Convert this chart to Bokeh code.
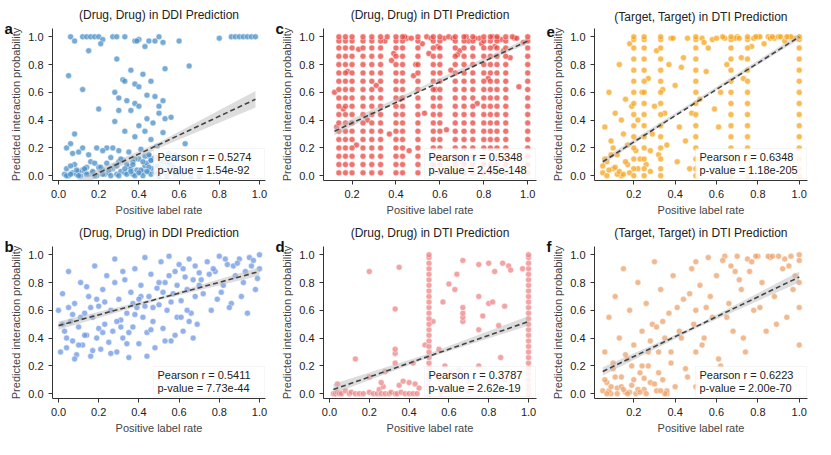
from bokeh.plotting import figure
from bokeh.layouts import gridplot
from bokeh.models import Label, FixedTicker, BoxAnnotation, Title, CustomJSTickFormatter
from bokeh.embed import file_html
from bokeh.resources import INLINE

# ---------- data ----------
titles = ["(Drug, Drug) in DDI Prediction", "(Drug, Drug) in DTI Prediction", "(Target, Target) in DTI Prediction",
          "(Drug, Drug) in DDI Prediction", "(Drug, Drug) in DTI Prediction", "(Target, Target) in DTI Prediction"]
letters = ["a", "c", "e", "b", "d", "f"]
pearson_r = ["0.5274", "0.5348", "0.6348", "0.5411", "0.3787", "0.6223"]
p_values = ["1.54e-92", "2.45e-148", "1.18e-205", "7.73e-44", "2.62e-19", "2.00e-70"]
colors = ["#4a8fc7", "#e8453f", "#f5a41c", "#6e95e3", "#ee8486", "#eca26a"]

a_x = [0.06, 0.08, 0.12, 0.14, 0.16, 0.18, 0.20, 0.22, 0.27, 0.29, 0.33, 0.38, 0.40, 0.45, 0.48, 0.50, 0.52, 0.60, 0.80,
       0.86, 0.88, 0.90, 0.92, 0.94, 0.96, 0.98, 0.39, 0.43, 0.21,
       0.05, 0.15, 0.12, 0.20, 0.29, 0.65, 0.36, 0.42, 0.32, 0.33, 0.38, 0.46, 0.40, 0.28, 0.30, 0.34, 0.38, 0.40, 0.44,
       0.48, 0.52, 0.53, 0.50, 0.36, 0.30, 0.50, 0.44, 0.28, 0.40, 0.47, 0.53, 0.56, 0.33, 0.43, 0.52, 0.38, 0.08, 0.06,
       0.46, 0.63, 0.04, 0.12, 0.19, 0.27, 0.30, 0.24, 0.07, 0.10, 0.15, 0.22, 0.35, 0.41, 0.49, 0.55, 0.58, 0.45, 0.26,
       0.03, 0.05, 0.07, 0.09, 0.11, 0.13, 0.15, 0.17, 0.19, 0.21, 0.23, 0.25, 0.27, 0.29, 0.31, 0.33, 0.35, 0.37, 0.39,
       0.41, 0.43, 0.45, 0.47, 0.49, 0.51, 0.53, 0.55, 0.57, 0.59, 0.04, 0.08, 0.12, 0.16, 0.20, 0.24, 0.28, 0.32, 0.36,
       0.40, 0.44, 0.48, 0.52, 0.56, 0.06, 0.14, 0.22, 0.30, 0.38, 0.46, 0.54, 0.10, 0.18, 0.26, 0.34, 0.42, 0.50, 0.58,
       0.31, 0.37, 0.43, 0.47, 0.51, 0.55, 0.45, 0.49, 0.62, 0.66, 0.70,
       0.04, 0.06, 0.10, 0.14, 0.18, 0.22, 0.26, 0.30, 0.34, 0.38, 0.42, 0.46, 0.50, 0.54, 0.58, 0.09, 0.13, 0.17, 0.21,
       0.25, 0.29, 0.33, 0.37, 0.41, 0.45, 0.49, 0.53, 0.57, 0.36, 0.40, 0.44, 0.48, 0.52, 0.42, 0.46, 0.50]
a_y = [1.00, 0.97, 1.00, 1.00, 1.00, 1.00, 1.00, 0.98, 1.00, 1.00, 1.00, 0.97, 0.98, 0.97, 0.97, 1.00, 0.96, 0.97, 0.99,
       1.00, 1.00, 1.00, 1.00, 1.00, 1.00, 1.00, 0.97, 0.93, 0.95,
       0.72, 0.90, 0.62, 0.48, 0.84, 0.79, 0.76, 0.73, 0.69, 0.68, 0.66, 0.68, 0.64, 0.60, 0.56, 0.54, 0.52, 0.50, 0.58,
       0.57, 0.54, 0.77, 0.50, 0.47, 0.47, 0.45, 0.41, 0.39, 0.36, 0.38, 0.41, 0.42, 0.32, 0.32, 0.31, 0.28, 0.30, 0.23,
       0.26, 0.23, 0.20, 0.20, 0.20, 0.20, 0.18, 0.20, 0.16, 0.17, 0.15, 0.18, 0.17, 0.19, 0.21, 0.16, 0.15, 0.14, 0.13,
       0.01, 0.00, 0.02, 0.01, 0.00, 0.03, 0.01, 0.02, 0.00, 0.04, 0.01, 0.02, 0.05, 0.01, 0.03, 0.02, 0.06, 0.01, 0.04,
       0.02, 0.07, 0.03, 0.05, 0.01, 0.08, 0.02, 0.06, 0.03, 0.01, 0.05, 0.08, 0.04, 0.10, 0.06, 0.09, 0.07, 0.11, 0.05,
       0.12, 0.09, 0.13, 0.10, 0.08, 0.07, 0.06, 0.04, 0.10, 0.12, 0.11, 0.09, 0.03, 0.09, 0.05, 0.08, 0.03, 0.06, 0.02,
       0.12, 0.10, 0.14, 0.12, 0.11, 0.09, 0.15, 0.13, 0.01, 0.00, 0.00,
       0.00, 0.01, 0.00, 0.01, 0.00, 0.01, 0.00, 0.00, 0.01, 0.00, 0.00, 0.01, 0.00, 0.00, 0.01, 0.04, 0.05, 0.03, 0.06,
       0.04, 0.07, 0.05, 0.08, 0.04, 0.06, 0.07, 0.04, 0.06, 0.03, 0.02, 0.03, 0.02, 0.03, 0.10, 0.11, 0.12]
a_fit = [(0.17, 0.00), (0.98, 0.55)]
a_band = [(0.03, -0.14, -0.08), (0.17, -0.03, 0.03), (0.5, 0.20, 0.24), (0.98, 0.49, 0.61)]

b_x = [0.00, 0.01, 0.02, 0.03, 0.04, 0.05, 0.06, 0.07, 0.08, 0.09, 0.10, 0.11, 0.12, 0.13, 0.14, 0.15, 0.16, 0.17, 0.18,
       0.19, 0.20, 0.21, 0.22, 0.23, 0.24, 0.25, 0.26, 0.27, 0.28, 0.29, 0.30, 0.31, 0.32, 0.33, 0.34, 0.35, 0.36, 0.37,
       0.38, 0.39, 0.40, 0.41, 0.42, 0.43, 0.44, 0.45, 0.46, 0.47, 0.48, 0.49, 0.50, 0.51, 0.52, 0.53, 0.54, 0.55, 0.56,
       0.57, 0.58, 0.59, 0.60, 0.61, 0.62, 0.63, 0.64, 0.65, 0.66, 0.67, 0.68, 0.69, 0.70, 0.72, 0.74, 0.76, 0.78, 0.80,
       0.82, 0.84, 0.86, 0.88, 0.90, 0.92, 0.94, 0.96, 0.98, 1.00, 0.02, 0.05, 0.08, 0.11, 0.14, 0.17, 0.20, 0.23, 0.26,
       0.29, 0.32, 0.35, 0.38, 0.41, 0.44, 0.47, 0.50, 0.53, 0.56, 0.59, 0.62, 0.65, 0.68, 0.71, 0.75, 0.79, 0.83, 0.87,
       0.91, 0.95, 0.99, 0.04, 0.10, 0.16, 0.22, 0.28, 0.34, 0.40, 0.46, 0.52, 0.58, 0.64, 0.70, 0.77, 0.85, 0.93, 1.00,
       0.07, 0.19, 0.31, 0.43, 0.55, 0.67, 0.81, 0.97, 0.13, 0.37, 0.61, 0.89]
b_y = [0.60, 0.30, 0.72, 0.45, 0.33, 0.88, 0.52, 0.38, 0.65, 0.28, 0.48, 0.80, 0.35, 0.58, 0.42, 0.70, 0.27, 0.55, 0.92,
       0.40, 0.63, 0.32, 0.75, 0.50, 0.85, 0.37, 0.60, 0.45, 0.97, 0.30, 0.68, 0.53, 0.40, 0.82, 0.58, 0.26, 0.73, 0.48,
       0.90, 0.62, 0.36, 0.78, 0.55, 0.98, 0.44, 0.70, 0.86, 0.52, 0.33, 0.76, 0.64, 0.95, 0.47, 0.80, 0.60, 0.99, 0.38,
       0.72, 0.88, 0.55, 0.93, 0.67, 0.45, 0.84, 0.75, 0.97, 0.58, 0.82, 0.92, 0.50, 0.87, 0.72, 0.95, 0.60, 0.88, 0.99,
       0.78, 0.93, 0.65, 0.85, 0.97, 0.80, 0.58, 0.92, 0.75, 0.90, 0.50, 0.62, 0.25, 0.55, 0.77, 0.31, 0.47, 0.66, 0.29,
       0.52, 0.88, 0.44, 0.57, 0.70, 0.27, 0.62, 0.80, 0.38, 0.66, 0.78, 0.90, 0.52, 0.70, 0.82, 0.86, 0.68, 0.97, 0.92,
       0.70, 0.98, 0.83, 0.40, 0.35, 0.62, 0.44, 0.80, 0.36, 0.68, 0.46, 0.73, 0.42, 0.60, 0.78, 0.90, 0.62, 0.88, 1.00,
       0.57, 0.68, 0.48, 0.63, 0.85, 0.40, 0.73, 0.96, 0.42, 0.65, 0.55, 0.94]
b_fit = [(0.00, 0.49), (1.00, 0.88)]
b_band = [(0.00, 0.46, 0.52), (0.5, 0.675, 0.695), (1.00, 0.85, 0.91)]

c_stripes = [0.14, 0.17, 0.20, 0.25, 0.29, 0.33, 0.40, 0.43, 0.50, 0.57, 0.60, 0.67, 0.71, 0.75, 0.80, 0.83, 0.86, 0.90, 1.00]
c_stripe_y = [0.02, 0.08, 0.14, 0.20, 0.26, 0.32, 0.38, 0.44, 0.50, 0.56, 0.62, 0.68, 0.74, 0.80, 0.86, 0.92, 0.97, 1.00]
c_x = [0.12, 0.13, 0.16, 0.18, 0.22, 0.23, 0.27, 0.31, 0.35, 0.37, 0.38, 0.42, 0.45, 0.46, 0.48, 0.52, 0.53, 0.55, 0.58,
       0.62, 0.63, 0.65, 0.69, 0.73, 0.77, 0.78, 0.82, 0.85, 0.88, 0.92, 0.94, 0.96, 0.98, 0.36, 0.44, 0.54, 0.64, 0.72,
       0.84, 0.93, 0.47, 0.56, 0.66, 0.76, 0.86, 0.95, 0.39, 0.49, 0.59, 0.68, 0.79, 0.89]
c_y = [0.60, 0.35, 0.48, 0.75, 0.22, 0.91, 0.40, 0.65, 0.97, 0.30, 0.83, 0.55, 0.99, 0.18, 0.72, 0.95, 0.45, 0.88, 0.62,
       0.99, 0.33, 0.76, 0.90, 0.97, 0.52, 0.99, 0.70, 0.93, 0.98, 0.85, 0.99, 0.64, 0.96, 1.00, 1.00, 1.00, 1.00, 1.00,
       1.00, 1.00, 0.99, 0.99, 0.99, 0.99, 0.99, 0.99, 0.88, 0.80, 0.93, 0.87, 0.95, 0.90]
c_fit = [(0.12, 0.32), (1.00, 0.97)]
c_band = [(0.12, 0.29, 0.35), (0.55, 0.645, 0.665), (1.00, 0.95, 0.99)]

e_stripes = [0.20, 0.25, 0.33, 0.50, 0.67, 0.75, 1.00]
e_stripe_y = [0.00, 0.05, 0.12, 0.20, 0.28, 0.36, 0.44, 0.52, 0.60, 0.68, 0.76, 0.84, 0.92, 0.98, 1.00]
e_x = [0.05, 0.06, 0.07, 0.08, 0.09, 0.10, 0.11, 0.12, 0.13, 0.14, 0.15, 0.16, 0.17, 0.18, 0.22, 0.23, 0.27, 0.28, 0.30,
       0.31, 0.36, 0.38, 0.40, 0.42, 0.44, 0.46, 0.48, 0.53, 0.55, 0.58, 0.60, 0.62, 0.64, 0.70, 0.72, 0.78, 0.80, 0.83,
       0.85, 0.88, 0.90, 0.93, 0.95, 0.98, 0.06, 0.08, 0.10, 0.12, 0.14, 0.16, 0.18, 0.21, 0.24, 0.26, 0.29, 0.32, 0.35,
       0.37, 0.41, 0.45, 0.52, 0.56, 0.61, 0.65, 0.69, 0.73, 0.77, 0.81, 0.86, 0.91, 0.96, 0.05, 0.09, 0.13, 0.17, 0.22,
       0.28, 0.34, 0.39, 0.43, 0.47, 0.54, 0.59, 0.63, 0.71, 0.79, 0.87, 0.94, 0.07, 0.11, 0.15, 0.19]
e_y = [0.02, 0.35, 0.10, 0.60, 0.25, 0.05, 0.45, 0.15, 0.80, 0.00, 0.30, 0.55, 0.08, 0.95, 0.40, 0.12, 0.70, 0.03, 0.50,
       0.90, 0.22, 0.99, 0.65, 0.35, 0.85, 0.99, 0.45, 0.99, 0.75, 0.98, 0.99, 0.60, 0.99, 1.00, 0.85, 0.99, 1.00, 0.95,
       1.00, 0.99, 1.00, 0.97, 1.00, 0.99, 0.12, 0.04, 0.20, 0.01, 0.40, 0.10, 0.02, 0.18, 0.60, 0.08, 0.30, 0.15, 0.45,
       0.80, 0.10, 0.25, 0.55, 0.92, 0.35, 0.80, 0.99, 0.70, 0.93, 1.00, 0.99, 1.00, 1.00, 0.07, 0.15, 0.03, 0.22, 0.05,
       0.18, 0.62, 0.99, 0.78, 0.05, 0.96, 0.48, 1.00, 0.99, 1.00, 1.00, 1.00, 0.00, 0.06, 0.01, 0.50]
e_fit = [(0.05, 0.10), (1.00, 1.00)]
e_band = [(0.05, 0.08, 0.12), (0.5, 0.525, 0.545), (1.00, 0.98, 1.02)]

d_stripes = [0.50, 1.00]
d_stripe_y = [0.00, 0.03, 0.06, 0.10, 0.14, 0.18, 0.22, 0.26, 0.30, 0.34, 0.38, 0.42, 0.46, 0.50, 0.54, 0.58, 0.62, 0.66,
              0.70, 0.74, 0.78, 0.82, 0.86, 0.90, 0.94, 0.98, 1.00]
d_x = [0.02, 0.03, 0.04, 0.05, 0.06, 0.08, 0.10, 0.11, 0.13, 0.15, 0.17, 0.20, 0.22, 0.24, 0.25, 0.26, 0.27, 0.28, 0.30,
       0.31, 0.33, 0.34, 0.36, 0.38, 0.40, 0.42, 0.44, 0.04, 0.13, 0.20, 0.26, 0.28, 0.33, 0.33, 0.33, 0.35, 0.37, 0.40,
       0.42, 0.43, 0.45, 0.48, 0.20, 0.35, 0.33, 0.52, 0.55, 0.57, 0.58, 0.60, 0.61, 0.63, 0.64, 0.67, 0.67, 0.67, 0.67,
       0.67, 0.70, 0.75, 0.75, 0.75, 0.75, 0.75, 0.77, 0.80, 0.80, 0.82, 0.83, 0.86, 0.87, 0.88, 0.88, 0.90, 0.91, 0.97,
       0.58, 0.60, 0.63, 0.70, 0.80, 0.55, 0.65, 0.72, 0.85, 0.92, 0.56]
d_y = [0.00, 0.00, 0.01, 0.00, 0.00, 0.02, 0.00, 0.01, 0.00, 0.00, 0.00, 0.01, 0.00, 0.00, 0.03, 0.00, 0.05, 0.00, 0.00,
       0.01, 0.00, 0.00, 0.01, 0.00, 0.00, 0.00, 0.00, 0.07, 0.25, 0.12, 0.08, 0.16, 0.29, 0.32, 0.22, 0.06, 0.09, 0.08,
       0.22, 0.07, 0.04, 0.35, 0.88, 0.91, 0.61, 0.52, 0.32, 0.66, 0.02, 0.79, 0.15, 0.75, 0.86, 0.52, 0.55, 0.58, 0.62,
       0.96, 0.09, 0.46, 0.70, 0.93, 0.20, 0.06, 0.56, 0.65, 0.94, 0.66, 0.88, 0.26, 0.94, 0.63, 0.10, 0.92, 0.89, 0.90,
       0.20, 0.05, 0.13, 0.02, 0.08, 0.11, 0.17, 0.03, 0.49, 0.02, 0.00]
d_fit = [(0.02, 0.03), (1.00, 0.52)]
d_band = [(0.02, 0.00, 0.07), (0.5, 0.26, 0.29), (1.00, 0.49, 0.56)]

f_x = [0.05, 0.06, 0.07, 0.08, 0.09, 0.10, 0.11, 0.12, 0.13, 0.14, 0.15, 0.16, 0.17, 0.18, 0.19, 0.20, 0.21, 0.22, 0.23,
       0.24, 0.25, 0.26, 0.27, 0.28, 0.29, 0.30, 0.31, 0.32, 0.33, 0.34, 0.35, 0.36, 0.37, 0.38, 0.39, 0.40, 0.42, 0.44,
       0.46, 0.48, 0.50, 0.50, 0.50, 0.50, 0.52, 0.54, 0.56, 0.58, 0.60, 0.62, 0.64, 0.66, 0.67, 0.68, 0.70, 0.72, 0.74,
       0.75, 0.76, 0.78, 0.80, 0.82, 0.84, 0.86, 0.88, 0.90, 0.92, 0.94, 0.96, 0.98, 1.00, 1.00, 1.00, 1.00, 1.00, 0.06,
       0.08, 0.10, 0.12, 0.14, 0.16, 0.18, 0.20, 0.22, 0.24, 0.26, 0.28, 0.30, 0.32, 0.34, 0.36, 0.38, 0.41, 0.45, 0.49,
       0.53, 0.57, 0.61, 0.65, 0.69, 0.73, 0.77, 0.81, 0.85, 0.89, 0.93, 0.97, 0.07, 0.11, 0.15, 0.19, 0.23, 0.27, 0.31,
       0.35, 0.43, 0.47, 0.55, 0.63, 0.71, 0.79, 0.87, 0.95, 0.09, 0.17, 0.25, 0.33]
f_y = [0.02, 0.30, 0.08, 0.55, 0.00, 0.18, 0.70, 0.04, 0.40, 0.12, 0.90, 0.01, 0.25, 0.60, 0.06, 0.35, 0.00, 0.80, 0.15,
       0.45, 0.03, 0.65, 0.20, 0.08, 0.50, 0.95, 0.02, 0.30, 0.75, 0.10, 0.40, 0.00, 0.58, 0.22, 0.85, 0.05, 0.45, 0.68,
       0.12, 0.90, 0.30, 0.60, 0.95, 0.05, 0.78, 0.40, 0.98, 0.55, 0.85, 0.20, 0.99, 0.65, 0.92, 0.45, 0.99, 0.75, 0.30,
       0.97, 0.88, 0.60, 0.99, 0.80, 0.45, 0.98, 0.70, 0.99, 0.90, 0.55, 0.99, 0.85, 1.00, 0.62, 0.35, 0.80, 0.96, 0.10,
       0.02, 0.22, 0.00, 0.05, 0.28, 0.01, 0.10, 0.03, 0.20, 0.00, 0.38, 0.07, 0.15, 0.52, 0.02, 0.30, 0.62, 0.18, 0.50,
       0.35, 0.70, 0.25, 0.55, 0.88, 0.40, 0.95, 0.62, 0.99, 0.50, 0.97, 0.75, 0.00, 0.12, 0.03, 0.20, 0.01, 0.30, 0.48,
       0.00, 0.40, 0.72, 0.62, 0.96, 0.82, 0.99, 0.99, 0.92, 0.05, 0.00, 0.11, 0.02]
f_fit = [(0.05, 0.16), (1.00, 0.84)]
f_band = [(0.05, 0.13, 0.19), (0.5, 0.47, 0.49), (1.00, 0.80, 0.88)]


def expand(stripes, ys):
    xs_out, ys_out = [], []
    for sx in stripes:
        for sy in ys:
            xs_out.append(sx)
            ys_out.append(sy)
    return xs_out, ys_out


sc_x, sc_y = expand(c_stripes, c_stripe_y)
se_x, se_y = expand(e_stripes, e_stripe_y)
sd_x, sd_y = expand(d_stripes, d_stripe_y)

panels = [
    (a_x, a_y, a_fit, a_band, (-0.03, 1.03)),
    (c_x + sc_x, c_y + sc_y, c_fit, c_band, (0.07, 1.04)),
    (e_x + se_x, e_y + se_y, e_fit, e_band, (0.01, 1.04)),
    (b_x, b_y, b_fit, b_band, (-0.03, 1.03)),
    (d_x + sd_x, d_y + sd_y, d_fit, d_band, (-0.03, 1.04)),
    (f_x, f_y, f_fit, f_band, (0.01, 1.04)),
]

FONT = "Liberation Sans"
W, H = 271, 218
FW = W - 52 - 6  # frame width


def make_panel(i):
    xs, ys, fit, band, xr = panels[i]
    p = figure(width=W, height=H, output_backend="svg", toolbar_location=None,
               x_range=xr, y_range=(-0.035, 1.06), min_border_left=52,
               min_border_right=6, min_border_bottom=34, min_border_top=4)
    p.title.text = titles[i]
    p.title.align = "center"
    p.title.text_font = FONT
    p.title.text_font_size = "12px"
    p.title.text_font_style = "normal"
    p.title.text_color = "#222222"
    p.title.offset = -12
    p.add_layout(Title(text=letters[i], align="left", text_font=FONT, text_font_size="15px",
                       text_font_style="bold", text_color="#111111", offset=-48,
                       standoff=-17), "above")
    p.outline_line_color = None
    p.grid.visible = False
    fmt = CustomJSTickFormatter(code="return tick.toFixed(1);")
    for ax in (p.xaxis, p.yaxis):
        ax.ticker = FixedTicker(ticks=[0.0, 0.2, 0.4, 0.6, 0.8, 1.0])
        ax.formatter = fmt
        ax.major_label_text_font = FONT
        ax.major_label_text_font_size = "11px"
        ax.major_label_text_color = "#222222"
        ax.axis_label_text_font = FONT
        ax.axis_label_text_font_size = "11px"
        ax.axis_label_text_font_style = "normal"
        ax.axis_line_color = "#333333"
        ax.major_tick_line_color = "#333333"
        ax.minor_tick_line_color = None
        ax.major_tick_out = 4
        ax.major_tick_in = 0
        ax.axis_label_standoff = 3
    p.xaxis.axis_label = "Positive label rate"
    p.yaxis.axis_label = "Predicted interaction probability"

    p.scatter(xs, ys, size=6, fill_color=colors[i], fill_alpha=0.75,
              line_color="white", line_width=0.6, line_alpha=0.8)
    p.varea(x=[b[0] for b in band], y1=[b[1] for b in band], y2=[b[2] for b in band],
            fill_color="#bbbbbb", fill_alpha=0.5)
    p.line([f[0] for f in fit], [f[1] for f in fit], line_color="#444444",
           line_width=1.6, line_dash="5 3")

    p.add_layout(BoxAnnotation(left=FW - 112, right=FW - 1, bottom=2, top=32,
                               left_units="screen", right_units="screen",
                               bottom_units="screen", top_units="screen",
                               fill_color="white", fill_alpha=0.85,
                               line_color="#dddddd", line_width=1))
    p.add_layout(Label(x=FW - 108, y=18, x_units="screen", y_units="screen",
                       text="Pearson r = " + pearson_r[i], text_font=FONT,
                       text_font_size="11px", text_color="#222222"))
    p.add_layout(Label(x=FW - 108, y=5, x_units="screen", y_units="screen",
                       text="p-value = " + p_values[i], text_font=FONT,
                       text_font_size="11px", text_color="#222222"))
    return p


figs = [make_panel(i) for i in range(6)]
grid = gridplot([figs[0:3], figs[3:6]], toolbar_location=None)

open("out.html", "w").write(file_html(grid, INLINE))
